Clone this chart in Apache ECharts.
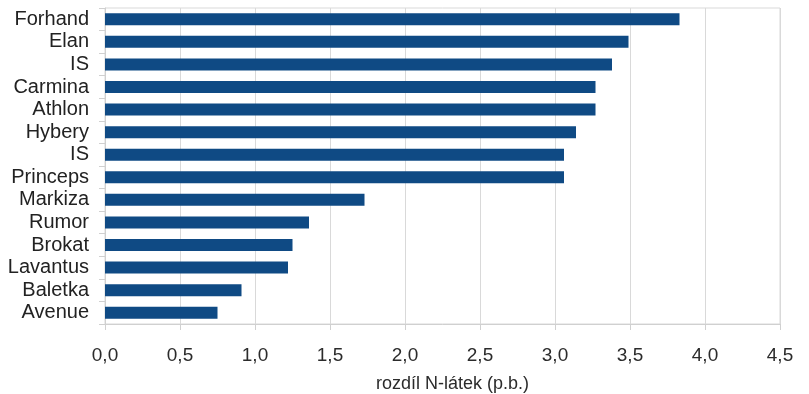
<!DOCTYPE html>
<html>
<head>
<meta charset="utf-8">
<script src="https://cdn.jsdelivr.net/npm/echarts@6/dist/echarts.min.js"></script>
<style>
  html, body { margin: 0; padding: 0; background: #fff; }
  #chart { width: 809px; height: 394px; }
</style>
</head>
<body>
<div id="chart"></div>
<script>
// odrůdy shora dolů
const odrudy = ["Forhand", "Elan", "IS", "Carmina", "Athlon", "Hybery", "IS", "Princeps", "Markiza", "Rumor", "Brokat", "Lavantus", "Baletka", "Avenue"];
const rozdil = [3.83, 3.49, 3.38, 3.27, 3.27, 3.14, 3.06, 3.06, 1.73, 1.36, 1.25, 1.22, 0.91, 0.75];
const osaX = { min: 0, max: 4.5, interval: 0.5 };

const myChart = echarts.init(document.getElementById("chart"), null, { renderer: "canvas" });
const option = {
  animation: false,
  textStyle: { fontFamily: "Liberation Sans, Arial, sans-serif" },
  grid: {
    left: 105, right: 29, top: 8, bottom: 70,
    containLabel: false,
    outerBoundsMode: "none",
    show: true, borderColor: "#d9d9d9", borderWidth: 1
  },
  xAxis: {
    type: "value",
    min: osaX.min, max: osaX.max, interval: osaX.interval,
    name: "rozdíl N-látek (p.b.)",
    nameLocation: "middle",
    nameGap: 51,
    nameTextStyle: { fontSize: 18, color: "#2b2b2b", padding: [0, 0, 0, 20] },
    axisLine: { show: true, lineStyle: { color: "#d0d0d0", width: 1 } },
    axisTick: { show: true, length: 6, lineStyle: { color: "#d0d0d0" } },
    axisLabel: {
      fontSize: 19, color: "#2b2b2b", margin: 22,
      formatter: (v) => v.toFixed(1).replace(".", ",")
    },
    splitLine: { show: true, lineStyle: { color: "#d9d9d9", width: 1 } }
  },
  yAxis: {
    type: "category",
    inverse: true,
    data: odrudy,
    axisLine: { show: true, lineStyle: { color: "#d0d0d0", width: 1 } },
    axisTick: { show: true, length: 6, lineStyle: { color: "#d0d0d0" } },
    axisLabel: { fontSize: 20, color: "#222", margin: 16, interval: 0, hideOverlap: false }
  },
  series: [
    {
      type: "bar",
      data: rozdil,
      barWidth: 12,
      itemStyle: { color: "#0f4a84" }
    }
  ]
};
myChart.setOption(option);
window.addEventListener("resize", myChart.resize);
</script>
</body>
</html>
